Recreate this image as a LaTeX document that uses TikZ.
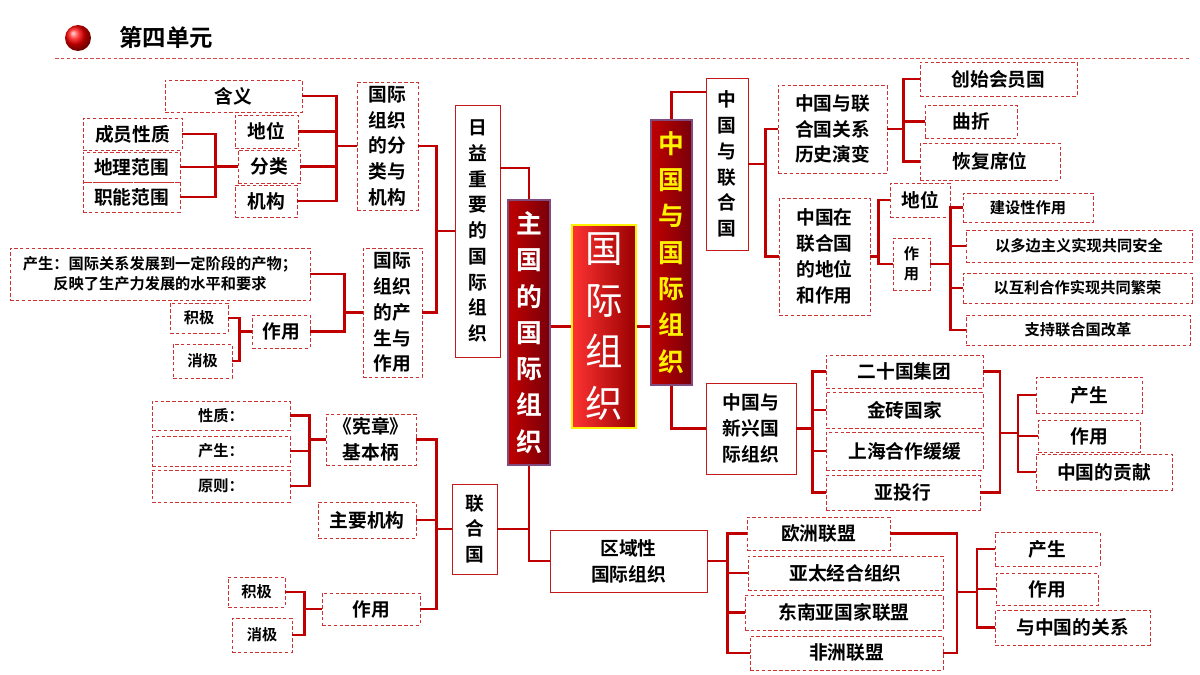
\documentclass[tikz,border=0pt]{standalone}
\usepackage{fontspec}
\setmainfont{Noto Sans CJK SC}[BoldFont={Noto Sans CJK SC Bold}]
\definecolor{lnk}{RGB}{192,0,0}
\definecolor{drk}{RGB}{120,0,10}
\newcommand{\bx}[7]{\node[#6, minimum width={(#4-#2)*0.03cm}, minimum height={(#5-#3)*0.03cm}] (#1) at ({(#2+#4)/2},{(#3+#5)/2}) {#7};}
\tikzset{
  dbox/.style={draw=lnk!80, densely dashed, line width=0.5pt, inner sep=0pt, align=center, font=\bfseries\fontsize{16}{22}\selectfont},
  sbox/.style={dbox, solid, draw=lnk!90},
  small/.style={dbox, font=\bfseries\fontsize{13}{17}\selectfont},
  link/.style={draw=lnk, line width=2.2pt},
  big/.style={inner sep=0pt, align=center, text=white, font=\bfseries\fontsize{22}{31}\selectfont, left color=lnk, right color=drk, draw=violet!40!gray, line width=1pt}
}
\begin{document}
\begin{tikzpicture}[x=0.03cm, y=-0.03cm]
\useasboundingbox (0,0) rectangle (1200,675);
% header
\shade[ball color=red] (78,38) circle (13);
\node[anchor=west, font=\bfseries\fontsize{20}{24}\selectfont] (title) at (115,38) {第四单元};
\draw[lnk!70, densely dashed, line width=0.6pt] (55,58) -- (1190,58);

% centre
\bx{core}{572}{225}{636}{428}{big, draw=yellow, line width=2pt, left color=red!80, right color=red!60!black, font=\fontsize{32}{44}\selectfont}{国\\际\\组\\织}
\bx{main}{508}{200}{550}{465}{big}{主\\国\\的\\国\\际\\组\\织}
\bx{cn}{651}{120}{692}{385}{big, text=yellow}{中\\国\\与\\国\\际\\组\\织}
\draw[link] (core.west) -- (main.east |- core.west);
\draw[link] (core.east) -- (cn.west |- core.east);

% left upper
\bx{grow}{455}{105}{500}{357}{sbox}{日\\益\\重\\要\\的\\国\\际\\组\\织}
\bx{cls}{357}{82}{418}{210}{dbox}{国际\\组织\\的分\\类与\\机构}
\bx{orig}{363}{248}{422}{377}{dbox}{国际\\组织\\的产\\生与\\作用}
\bx{mean}{165}{80}{302}{112}{dbox}{含义}
\bx{pos}{235}{115}{298}{148}{dbox}{地位}
\bx{kind}{238}{150}{300}{183}{dbox}{分类}
\bx{org}{235}{185}{297}{217}{dbox}{机构}
\bx{k1}{83}{118}{182}{150}{dbox}{成员性质}
\bx{k2}{83}{152}{180}{182}{dbox}{地理范围}
\bx{k3}{83}{182}{180}{212}{dbox}{职能范围}
\bx{born}{10}{248}{310}{300}{small}{产生：国际关系发展到一定阶段的产物；\\反映了生产力发展的水平和要求}
\bx{use}{252}{315}{310}{348}{dbox}{作用}
\bx{pos1}{170}{303}{228}{333}{small}{积极}
\bx{neg1}{173}{344}{232}{378}{small}{消极}
\draw[link] (main.north) |- ([yshift=1.89cm]grow.east);
\foreach \c in {cls,orig} \draw[link] (grow.west) -- ++(-18,0) |- (\c.east);
\foreach \c in {mean,pos,kind,org} \draw[link] (cls.west) -- ++(-20,0) |- (\c.east);
\foreach \c in {k1,k2,k3} \draw[link] (kind.west) -- ++(-22,0) |- (\c.east);
\foreach \c in {born,use} \draw[link] (orig.west) -- ++(-18,0) |- (\c.east);
\foreach \c in {pos1,neg1} \draw[link] (use.west) -- ++(-12,0) |- (\c.east);

% left lower
\bx{un}{452}{484}{497}{574}{sbox}{联\\合\\国}
\bx{chart}{326}{414}{416}{465}{dbox}{《宪章》\\基本柄}
\bx{c1}{152}{401}{290}{430}{small}{性质：}
\bx{c2}{152}{436}{290}{466}{small}{产生：}
\bx{c3}{152}{470}{290}{502}{small}{原则：}
\bx{body}{318}{502}{416}{538}{dbox}{主要机构}
\bx{role}{322}{593}{420}{625}{dbox}{作用}
\bx{pos2}{228}{577}{285}{607}{small}{积极}
\bx{neg2}{232}{618}{292}{652}{small}{消极}
\bx{reg}{550}{530}{707}{592}{sbox}{区域性\\国际组织}
\draw[link] (main.south) |- (reg.west);
\draw[link] (un.east) -- (main.south |- un.east);
\foreach \c in {chart,body,role} \draw[link] (un.west) -- ++(-15,0) |- (\c.east);
\foreach \c in {c1,c2,c3} \draw[link] (chart.west) -- ++(-16,0) |- (\c.east);
\foreach \c in {pos2,neg2} \draw[link] (role.west) -- ++(-17,0) |- (\c.east);

% right upper
\bx{cnun}{706}{78}{748}{250}{sbox}{中\\国\\与\\联\\合\\国}
\bx{hist}{778}{85}{887}{173}{dbox}{中国与联\\合国关系\\历史演变}
\bx{h1}{920}{62}{1077}{96}{dbox}{创始会员国}
\bx{h2}{925}{105}{1017}{138}{dbox}{曲折}
\bx{h3}{920}{143}{1060}{180}{dbox}{恢复席位}
\bx{stat}{779}{198}{870}{315}{dbox}{中国在\\联合国\\的地位\\和作用}
\bx{s1}{890}{183}{950}{217}{dbox}{地位}
\bx{s2}{893}{238}{930}{290}{small}{作\\用}
\bx{r1}{963}{193}{1093}{222}{small}{建设性作用}
\bx{r2}{966}{230}{1192}{262}{small}{以多边主义实现共同安全}
\bx{r3}{963}{273}{1192}{303}{small}{以互利合作实现共同繁荣}
\bx{r4}{966}{315}{1190}{345}{small}{支持联合国改革}
\draw[link] (cn.north) |- ([yshift=2.16cm]cnun.west);
\foreach \c in {hist,stat} \draw[link] (cnun.east) -- ++(17,0) |- (\c.west);
\foreach \c in {h1,h2,h3} \draw[link] (hist.east) -- ++(16,0) |- (\c.west);
\foreach \c in {s1,s2} \draw[link] (stat.east) -- ++(8,0) |- (\c.west);
\foreach \c in {r1,r2,r3,r4} \draw[link] (s2.east) -- ++(20,0) |- (\c.west);

% right lower
\bx{new}{706}{383}{796}{474}{sbox}{中国与\\新兴国\\际组织}
\bx{n1}{826}{355}{983}{388}{dbox}{二十国集团}
\bx{n2}{826}{392}{983}{428}{dbox}{金砖国家}
\bx{n3}{826}{432}{983}{470}{dbox}{上海合作缓缓}
\bx{n4}{826}{475}{980}{510}{dbox}{亚投行}
\bx{m1}{1036}{377}{1142}{413}{dbox}{产生}
\bx{m2}{1038}{420}{1140}{452}{dbox}{作用}
\bx{m3}{1036}{454}{1172}{490}{dbox}{中国的贡献}
\draw[link] (cn.south) |- (new.west);
\foreach \c in {n1,n2,n3,n4} \draw[link] (new.east) -- ++(16,0) |- (\c.west);
\coordinate (ng) at (1000,433);
\foreach \c in {n1,n4} \draw[link] (\c.east) -| (ng);
\foreach \c in {m1,m2,m3} \draw[link] (ng) -- (1018,433) |- (\c.west);

\bx{e1}{747}{517}{890}{550}{dbox}{欧洲联盟}
\bx{e2}{748}{556}{943}{590}{dbox}{亚太经合组织}
\bx{e3}{745}{595}{943}{630}{dbox}{东南亚国家联盟}
\bx{e4}{750}{636}{943}{670}{dbox}{非洲联盟}
\bx{f1}{995}{532}{1100}{566}{dbox}{产生}
\bx{f2}{996}{573}{1098}{605}{dbox}{作用}
\bx{f3}{995}{610}{1150}{645}{dbox}{与中国的关系}
\foreach \c in {e1,e2,e3,e4} \draw[link] (reg.east) -- ++(20,0) |- (\c.west);
\coordinate (eg) at (957,592);
\foreach \c in {e1,e4} \draw[link] (\c.east) -| (eg);
\foreach \c in {f1,f2,f3} \draw[link] (eg) -- (977,592) |- (\c.west);
\end{tikzpicture}
\end{document}
